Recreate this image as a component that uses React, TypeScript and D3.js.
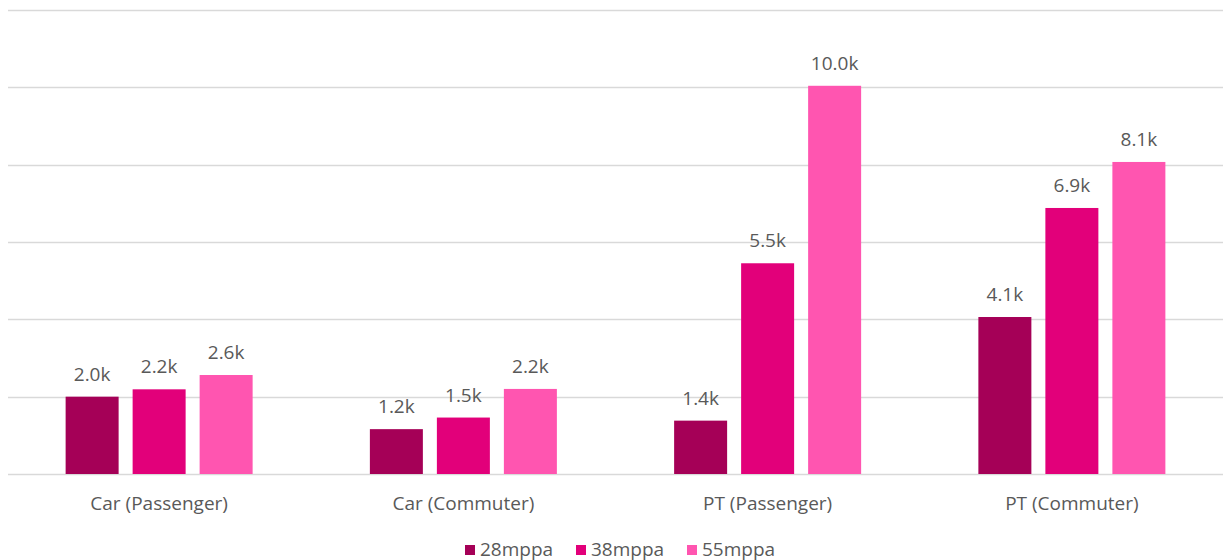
import React, { useRef, useEffect } from 'react';
import * as d3 from 'd3';

const categories = ['Car (Passenger)', 'Car (Commuter)', 'PT (Passenger)', 'PT (Commuter)'];
const seriesNames = ['28mppa', '38mppa', '55mppa'];
const seriesColors = ['#A50057', '#E2007A', '#FF55B0'];
const values28 = [2000, 1160, 1380, 4060];
const values38 = [2190, 1460, 5450, 6880];
const values55 = [2560, 2200, 10040, 8070];
const gridTicks = [0, 2000, 4000, 6000, 8000, 10000, 12000];

const App: React.FC = () => {
    const ref = useRef<SVGSVGElement>(null);

    useEffect(() => {
        const svg = d3.select(ref.current);
        svg.selectAll('*').remove();

        const width = 1223;
        const left = 8;
        const right = 1225;
        const top = 10;
        const bottom = 474;
        const groupWidth = 187;
        const font = '"Open Sans", "Noto Sans", sans-serif';
        const textColor = '#595959';
        const fontSize = '19px';

        const series = [values28, values38, values55];

        const x = d3.scaleBand().domain(categories).range([left, right]);
        const xInner = d3.scaleBand().domain(seriesNames).range([0, groupWidth]).paddingInner(0.209);
        const offset = (x.bandwidth() - groupWidth) / 2 - 1;
        const y = d3.scaleLinear().domain([0, 12000]).range([bottom, top]);

        // lignes de grille
        svg.append('g')
            .selectAll('line')
            .data(gridTicks)
            .enter()
            .append('line')
            .attr('x1', left)
            .attr('x2', width)
            .attr('y1', d => Math.round(y(d)) + 0.5)
            .attr('y2', d => Math.round(y(d)) + 0.5)
            .attr('stroke', '#D9D9D9')
            .attr('stroke-width', 1.5);

        // barres
        const groups = svg.append('g')
            .selectAll('g')
            .data(categories)
            .enter()
            .append('g')
            .attr('transform', c => `translate(${x(c)! + offset},0)`);

        seriesNames.forEach((s, si) => {
            groups.append('rect')
                .attr('x', xInner(s)!)
                .attr('width', xInner.bandwidth())
                .attr('y', (_, ci) => y(series[si][ci]))
                .attr('height', (_, ci) => y(0) - y(series[si][ci]))
                .attr('fill', seriesColors[si]);

            groups.append('text')
                .attr('x', xInner(s)! + xInner.bandwidth() / 2)
                .attr('y', (_, ci) => y(series[si][ci]) - 16)
                .attr('text-anchor', 'middle')
                .style('font-family', font)
                .style('font-size', fontSize)
                .style('fill', textColor)
                .text((_, ci) => `${(series[si][ci] / 1000).toFixed(1)}k`);
        });

        // étiquettes des catégories
        svg.append('g')
            .selectAll('text')
            .data(categories)
            .enter()
            .append('text')
            .attr('x', c => x(c)! + offset + groupWidth / 2)
            .attr('y', 509.5)
            .attr('text-anchor', 'middle')
            .style('font-family', font)
            .style('font-size', fontSize)
            .style('fill', textColor)
            .text(c => c);

        // légende
        const legendX = [465, 576, 687];
        const legend = svg.append('g')
            .selectAll('g')
            .data(seriesNames)
            .enter()
            .append('g')
            .attr('transform', (_, i) => `translate(${legendX[i]},0)`);

        legend.append('rect')
            .attr('x', 0)
            .attr('y', 545)
            .attr('width', 10)
            .attr('height', 10)
            .attr('fill', (_, i) => seriesColors[i]);

        legend.append('text')
            .attr('x', 15)
            .attr('y', 555.5)
            .style('font-family', font)
            .style('font-size', fontSize)
            .style('fill', textColor)
            .text(d => d);
    }, []);

    return (
        <svg
            ref={ref}
            width={1223}
            height={560}
            style={{ position: 'absolute', left: 0, top: 0, background: '#fff' }}
        />
    );
};

export default App;
